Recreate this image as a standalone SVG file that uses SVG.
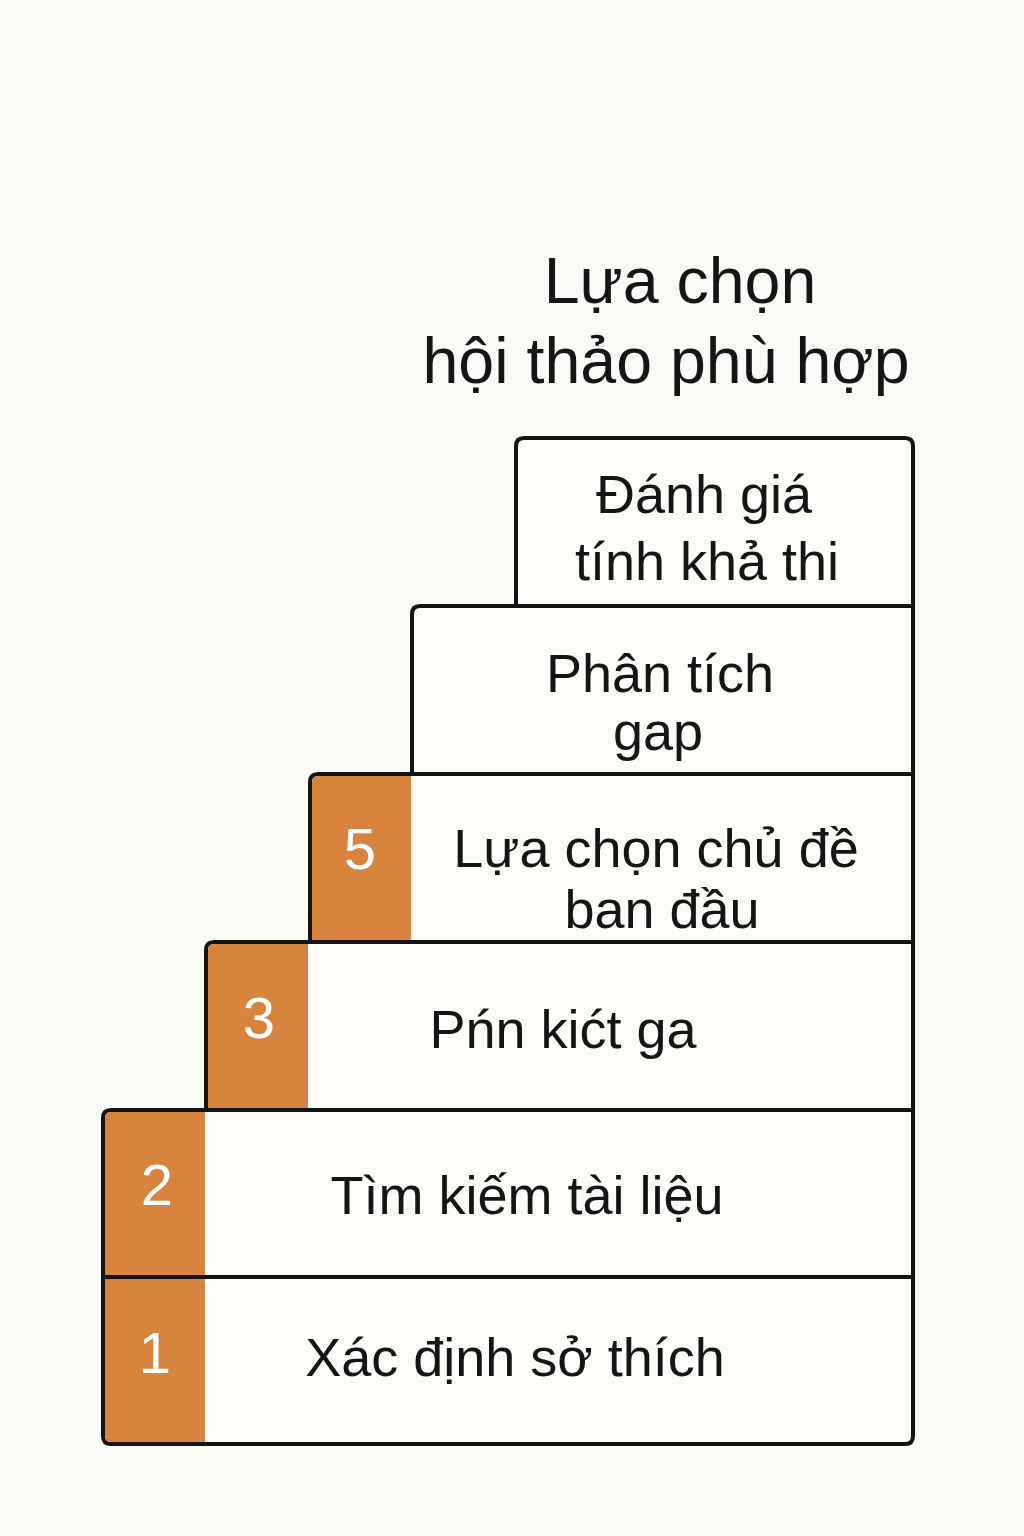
<svg xmlns="http://www.w3.org/2000/svg" width="1024" height="1536" viewBox="0 0 1024 1536">
<style>
.box{fill:#fdfcf9;stroke:#141414;stroke-width:4}
.num{fill:#d9843e}
.t{font-family:"Liberation Sans","DejaVu Sans",sans-serif;font-size:54px;fill:#151515;text-anchor:middle}
.n{font-family:"Liberation Sans","DejaVu Sans",sans-serif;font-size:58px;fill:#ffffff;text-anchor:middle}
.title{font-family:"Liberation Sans","DejaVu Sans",sans-serif;font-size:64.5px;fill:#151515;text-anchor:middle}
</style>
<rect width="1024" height="1536" fill="#fbfaf6"/>
<g id="title">
<text class="title" x="680" y="303">Lựa chọn</text>
<text class="title" x="666" y="383">hội thảo phù hợp</text>
</g>
<g id="step-danh-gia">
<path class="box" d="M516 606 V446 Q516 438 524 438 H905 Q913 438 913 446 V606 Z"/>
<text class="t" x="704" y="513">Đánh giá</text>
<text class="t" x="707" y="580">tính khả thi</text>
</g>
<g id="step-phan-tich">
<path class="box" d="M412 774 V614 Q412 606 420 606 H913 V774 Z"/>
<text class="t" x="660" y="692">Phân tích</text>
<text class="t" x="658" y="750">gap</text>
</g>
<g id="step-5">
<path class="box" d="M310 942 V782 Q310 774 318 774 H913 V942 Z"/>
<path class="num" d="M312 940 V783 Q312 776 318 776 H411 V940 Z"/>
<line x1="411" y1="774" x2="913" y2="774" stroke="#141414" stroke-width="4"/>
<text class="n" x="360" y="869">5</text>
<text class="t" x="656" y="867">Lựa chọn chủ đề</text>
<text class="t" x="662" y="928">ban đầu</text>
</g>
<g id="step-3">
<path class="box" d="M206 1110 V950 Q206 942 214 942 H913 V1110 Z"/>
<path class="num" d="M208 1108 V951 Q208 944 214 944 H308 V1108 Z"/>
<text class="n" x="259" y="1038">3</text>
<text class="t" x="563" y="1048">Pńn kićt ga</text>
</g>
<g id="step-2">
<path class="box" d="M103 1277 V1118 Q103 1110 111 1110 H913 V1277 Z"/>
<path class="num" d="M105 1275 V1119 Q105 1112 111 1112 H205 V1275 Z"/>
<text class="n" x="157" y="1205">2</text>
<text class="t" x="527" y="1214">Tìm kiếm tài liệu</text>
</g>
<g id="step-1">
<path class="box" d="M103 1277 V1436 Q103 1444 111 1444 H905 Q913 1444 913 1436 V1277 Z"/>
<path class="num" d="M105 1279 V1436 Q105 1442 111 1442 H205 V1279 Z"/>
<text class="n" x="155" y="1373">1</text>
<text class="t" x="515" y="1376">Xác định sở thích</text>
</g>
<g id="connectors"></g>
</svg>
